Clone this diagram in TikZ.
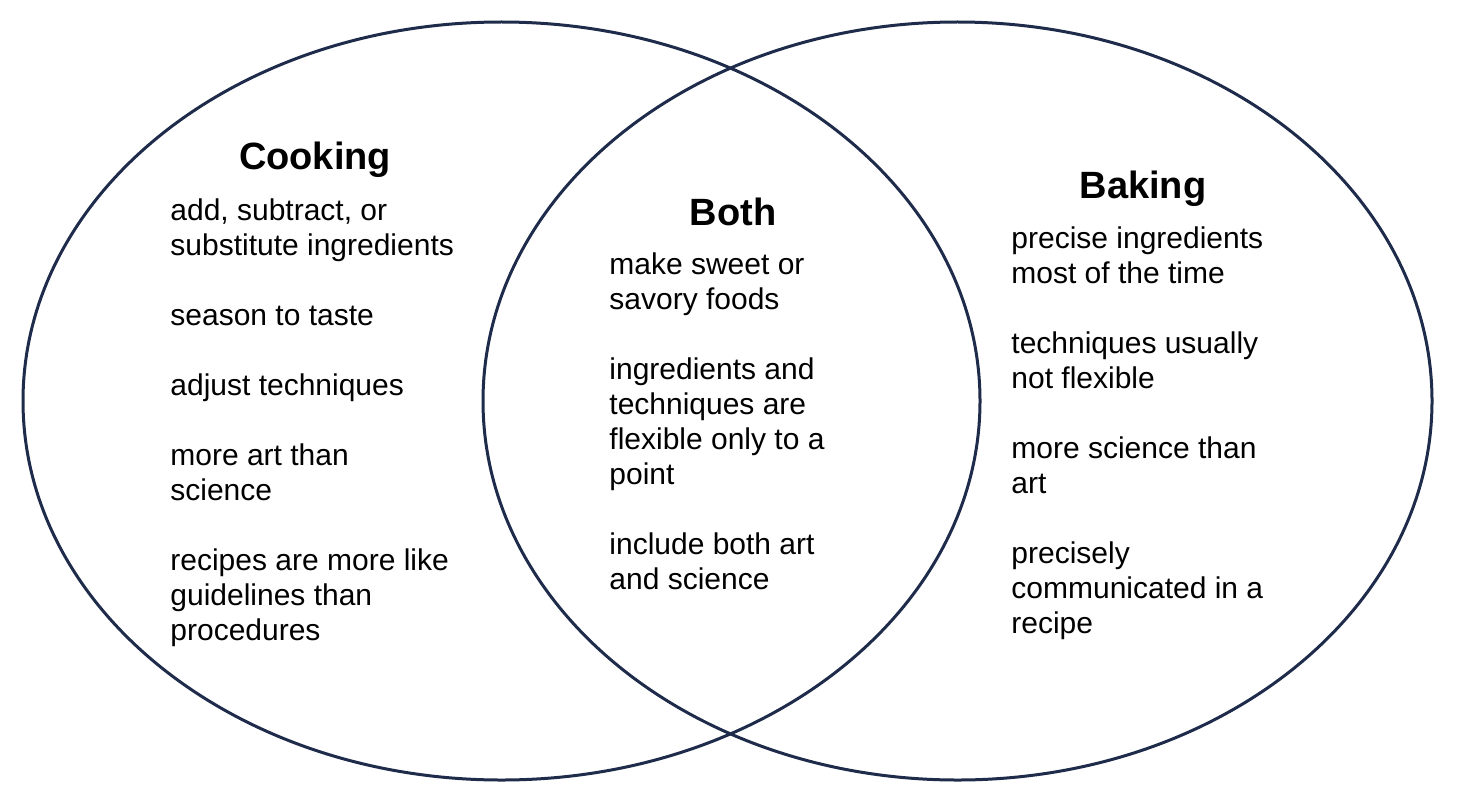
\documentclass[tikz,border=0pt]{standalone}
\usepackage{fontspec}
\setmainfont{Liberation Sans}
\usepackage{tikz}
\usetikzlibrary{positioning}

\definecolor{vennline}{HTML}{1F2B4A}

\begin{document}
\begin{tikzpicture}[x=0.5pt, y=-0.5pt,
  ring/.style={draw=vennline, line width=1.5pt},
  hd/.style={font=\fontsize{19}{22}\selectfont\bfseries, anchor=base, inner sep=0pt},
  items/.style={font=\fontsize{15}{17.5}\selectfont, align=left, anchor=base west, inner sep=0pt},
]
\useasboundingbox (0,0) rectangle (1459,808);

% the two sets
\draw[ring] (501.5,401) ellipse [x radius=478.5, y radius=379];
\draw[ring] (957.5,401) ellipse [x radius=474.5, y radius=379];

% left set: cooking (base anchor sits on the last line)
\node[hd] (cookhd) at (315,169) {Cooking};
\node[items] (cooklist) at (170,640.6) {add, subtract, or\\
  substitute ingredients\\[17.5pt]
  season to taste\\[17.5pt]
  adjust techniques\\[17.5pt]
  more art than\\
  science\\[17.5pt]
  recipes are more like\\
  guidelines than\\
  procedures};

% overlap: both
\node[hd] (bothhd) at (733,225) {Both};
\node[items] (bothlist) at (609,589.6) {make sweet or\\
  savory foods\\[17.5pt]
  ingredients and\\
  techniques are\\
  flexible only to a\\
  point\\[17.5pt]
  include both art\\
  and science};

% right set: baking
\node[hd] (bakehd) at (1143,198) {Baking};
\node[items] (bakelist) at (1011,633.6) {precise ingredients\\
  most of the time\\[17.5pt]
  techniques usually\\
  not flexible\\[17.5pt]
  more science than\\
  art\\[17.5pt]
  precisely\\
  communicated in a\\
  recipe};
\end{tikzpicture}
\end{document}
